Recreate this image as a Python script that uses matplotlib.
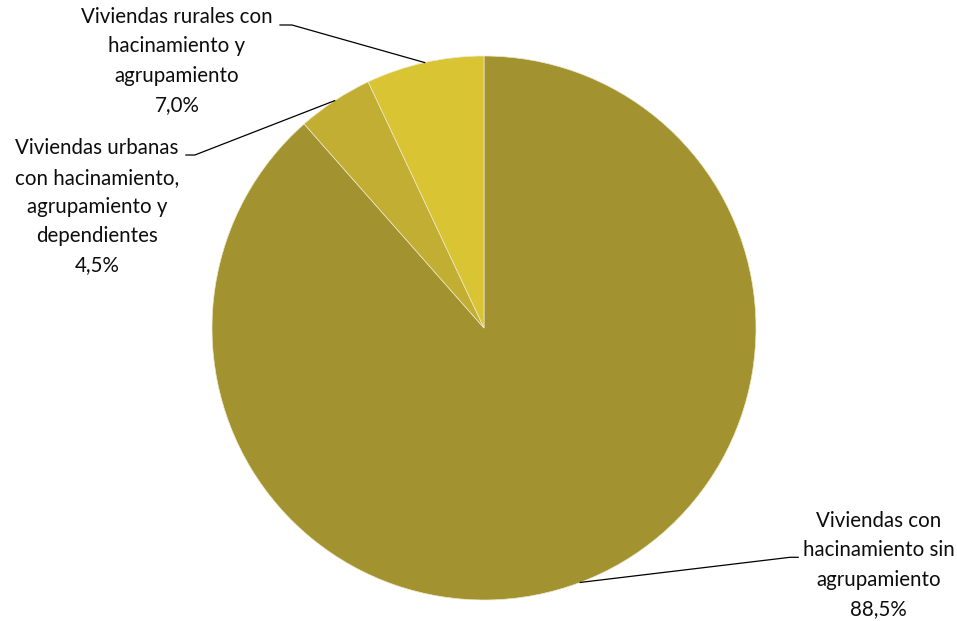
import numpy as np
import matplotlib.pyplot as plt

labels = ["Viviendas con\nhacinamiento sin\nagrupamiento",
          "Viviendas urbanas\ncon hacinamiento,\nagrupamiento y\ndependientes",
          "Viviendas rurales con\nhacinamiento y\nagrupamiento"]
values = [88.5, 4.5, 7.0]
colors = ["#A39230", "#C2AE33", "#D9C433"]

# label text centres and leader elbows (data units, radius = 1)
text_pos = [(1.450, -0.871), (-1.423, 0.445), (-1.129, 0.982)]
elbows = [((1.125, -0.843), (1.155, -0.843)),
          ((-1.096, 0.636), (-1.063, 0.636)),
          ((-0.750, 1.114), (-0.706, 1.114))]

plt.rcParams['font.family'] = ['Lato', 'DejaVu Sans']

fig = plt.figure(figsize=(9.57, 6.21), dpi=100)
ax = fig.add_axes([0, 0, 1, 1])
wedges, _ = ax.pie(values, colors=colors, startangle=90, counterclock=False,
                   radius=1, wedgeprops=dict(edgecolor="#EEE8C8", linewidth=0.5))
ax.set_xlim(-484 / 272, (957 - 484) / 272)
ax.set_ylim(-(621 - 328) / 272, 328 / 272)
ax.set_aspect("equal")
ax.axis("off")

for w, lab, v, tp, (e1, e2) in zip(wedges, labels, values, text_pos, elbows):
    mid = np.deg2rad((w.theta1 + w.theta2) / 2)
    px, py = np.cos(mid), np.sin(mid)
    ax.plot([px, e1[0] if px > 0 else e2[0], e1[0] if px < 0 else e2[0]],
            [py, e1[1], e1[1]], color="black", lw=0.9)
    txt = lab + "\n" + f"{v:.1f}%".replace(".", ",")
    ax.text(tp[0], tp[1], txt, ha="center", va="center", fontsize=14.8,
            linespacing=1.58, color="#0d0d0d")

fig.savefig("out.png", dpi=100)
